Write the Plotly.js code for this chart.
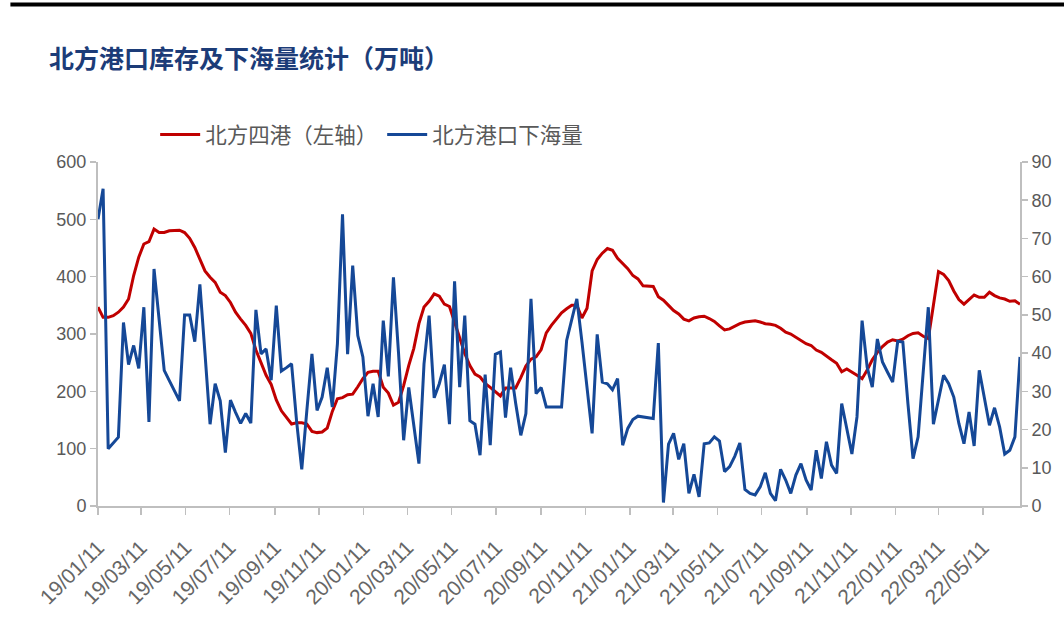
<!DOCTYPE html>
<html>
<head>
<meta charset="utf-8">
<script src="https://cdn.plot.ly/plotly-3.0.1.min.js"></script>
<style>
  html, body { margin: 0; padding: 0; background: #ffffff; }
  #chart { width: 1064px; height: 638px; }
</style>
</head>
<body>
<div id="chart"></div>
<script>
// Weekly observations starting 2019-01-11
const startDate = '2019-01-11';
const seriesNames = ['北方四港（左轴）', '北方港口下海量'];
const tickLabelStart = '2019-01-11';

// 北方四港库存（万吨，左轴）
const inventory = [
  347, 329, 329, 332, 338, 347, 361, 402, 434, 457,
  461, 483, 477, 477, 480, 480, 481, 477, 467, 451,
  431, 410, 399, 390, 373, 367, 355, 338, 326, 315,
  301, 272, 250, 228, 212, 185, 166, 155, 143, 145,
  145, 143, 130, 128, 129, 136, 165, 187, 189, 194,
  195, 208, 222, 233, 235, 235, 207, 197, 176, 181,
  210, 245, 275, 318, 347, 357, 370, 366, 352, 348,
  322, 293, 266, 245, 230, 225, 214, 207, 200, 192,
  206, 206, 206, 224, 244, 256, 260, 273, 302, 315,
  326, 337, 344, 350, 350, 328, 345, 410, 430, 441,
  449, 446, 432, 423, 414, 402, 396, 384, 384, 383,
  365, 359, 350, 341, 335, 326, 323, 328, 330, 331,
  327, 322, 314, 307, 309, 314, 318, 321, 322, 323,
  321, 318, 317, 315, 310, 303, 300, 294, 288, 283,
  280, 272, 268, 261, 255, 249, 234, 239, 234, 228,
  222, 237, 255, 268, 278, 286, 290, 288, 291, 297,
  301, 302, 296, 292, 350, 409, 404, 393, 375, 360,
  352, 360, 368, 364, 364, 373, 367, 363, 361, 357,
  358, 352
];

// 北方港口下海量（万吨，右轴）
const shipments = [
  75, 83, 15, 16.5, 18, 48, 37, 42, 36, 52,
  22, 62, 49, 35.5, 32.8, 30.1, 27.5, 50, 50, 43,
  58, 40, 21.4, 32, 27.5, 14, 27.7, 24.5, 21.6, 24.2,
  21.7, 51.3, 39.8, 41.1, 32.9, 52.4, 35.3, 36.2, 37.2, 22,
  9.6, 25, 39.8, 25, 28.5, 36.2, 25.9, 42.4, 76.3, 39.7,
  62.9, 44.6, 39, 23.5, 32, 23.3, 48.5, 33.9, 59.8, 40,
  17.2, 31, 21, 11.1, 37.2, 49.8, 28.3, 32, 37, 21.4,
  58.8, 31.1, 49.8, 22.3, 21.4, 13.3, 34.4, 15.9, 39.7, 40.3,
  23.1, 36.2, 26.8, 18.5, 24.2, 54.2, 29.4, 31, 25.9, 25.9,
  25.9, 25.9, 43.3, 49, 54.2, 43, 31, 19, 44.9, 32.4,
  32, 30.4, 33.3, 15.9, 20.3, 22.6, 23.5, 23.3, 23.1, 22.9,
  42.6, 0.9, 16.2, 19, 12.2, 16.3, 3.3, 8.3, 2.4, 16.3,
  16.5, 18.1, 17, 9, 10.3, 13, 16.5, 4.3, 3.3, 2.9,
  5, 8.7, 3.3, 1.4, 9.6, 6.8, 3.3, 8.1, 11.1, 6.8,
  4.2, 14.6, 7.2, 16.8, 10.7, 8.5, 26.8, 20, 13.6, 23.3,
  48.5, 36.3, 31.1, 43.7, 37.7, 35, 32.4, 43.1, 42.9, 26.8,
  12.4, 18.1, 35, 52, 21.4, 27.7, 34.2, 32, 28.5, 21.6,
  16.3, 24.6, 15.7, 35.5, 28.5, 21.1, 25.7, 20.7, 13.6, 14.6,
  18.1, 39
];

// weekly date categories
const dates = [];
const t0 = Date.parse(startDate + 'T00:00:00Z');
for (let i = 0; i < inventory.length; i++) {
  dates.push(new Date(t0 + i * 7 * 86400000).toISOString().slice(0, 10));
}

const axisGray = '#bfbfbf';
const textGray = '#595959';
const numFont = 'Liberation Sans, Arial, sans-serif';
const cjkFont = 'Noto Sans CJK SC, sans-serif';

const traces = [
  {
    x: dates, y: inventory, name: seriesNames[0], type: 'scatter', mode: 'lines',
    line: { color: '#c00000', width: 3 }, yaxis: 'y'
  },
  {
    x: dates, y: shipments, name: seriesNames[1], type: 'scatter', mode: 'lines',
    line: { color: '#154897', width: 3 }, yaxis: 'y2'
  }
];

const layout = {
  width: 1064, height: 638,
  paper_bgcolor: '#ffffff', plot_bgcolor: '#ffffff',
  margin: { l: 98, r: 44, t: 162, b: 132 },
  title: {
    text: '<b>北方港口库存及下海量统计（万吨）</b>',
    font: { family: cjkFont, size: 25, color: '#1c3c78' },
    x: 0.046, xanchor: 'left', xref: 'container', y: 0.907, yanchor: 'middle', yref: 'container'
  },
  showlegend: true,
  legend: {
    orientation: 'h', x: 0.062, xanchor: 'left', y: 1.08, yanchor: 'middle',
    font: { family: cjkFont, size: 21.5, color: textGray },
    bgcolor: 'rgba(0,0,0,0)', itemwidth: 40, tracegroupgap: 0
  },
  xaxis: {
    type: 'date',
    range: [dates[0], dates[dates.length - 1]],
    tickmode: 'linear', tick0: tickLabelStart, dtick: 'M2',
    tickformat: '%y/%m/%d', tickangle: -45,
    ticks: 'outside', ticklen: 7, tickwidth: 1.5, tickcolor: axisGray,
    ticklabelstandoff: 12,
    showline: true, linecolor: axisGray, linewidth: 2,
    showgrid: false, zeroline: false,
    tickfont: { family: numFont, size: 21, color: '#666666' }
  },
  yaxis: {
    range: [0, 600], dtick: 100, tick0: 0,
    ticks: 'outside', ticklen: 6, tickwidth: 1.5, tickcolor: axisGray,
    showline: true, linecolor: axisGray, linewidth: 2,
    showgrid: false, zeroline: false,
    tickfont: { family: numFont, size: 18, color: textGray }
  },
  yaxis2: {
    overlaying: 'y', side: 'right',
    range: [0, 90], dtick: 10, tick0: 0,
    ticks: 'outside', ticklen: 6, tickwidth: 1.5, tickcolor: axisGray,
    showline: true, linecolor: axisGray, linewidth: 2,
    showgrid: false, zeroline: false,
    tickfont: { family: numFont, size: 18, color: textGray }
  },
  shapes: [
    {
      type: 'line', xref: 'paper', yref: 'paper',
      x0: -0.095, x1: 1.06, y0: 1.458, y1: 1.458,
      line: { color: '#000000', width: 4 }
    }
  ]
};

Plotly.newPlot('chart', traces, layout, { displayModeBar: false, staticPlot: true });
</script>
</body>
</html>
